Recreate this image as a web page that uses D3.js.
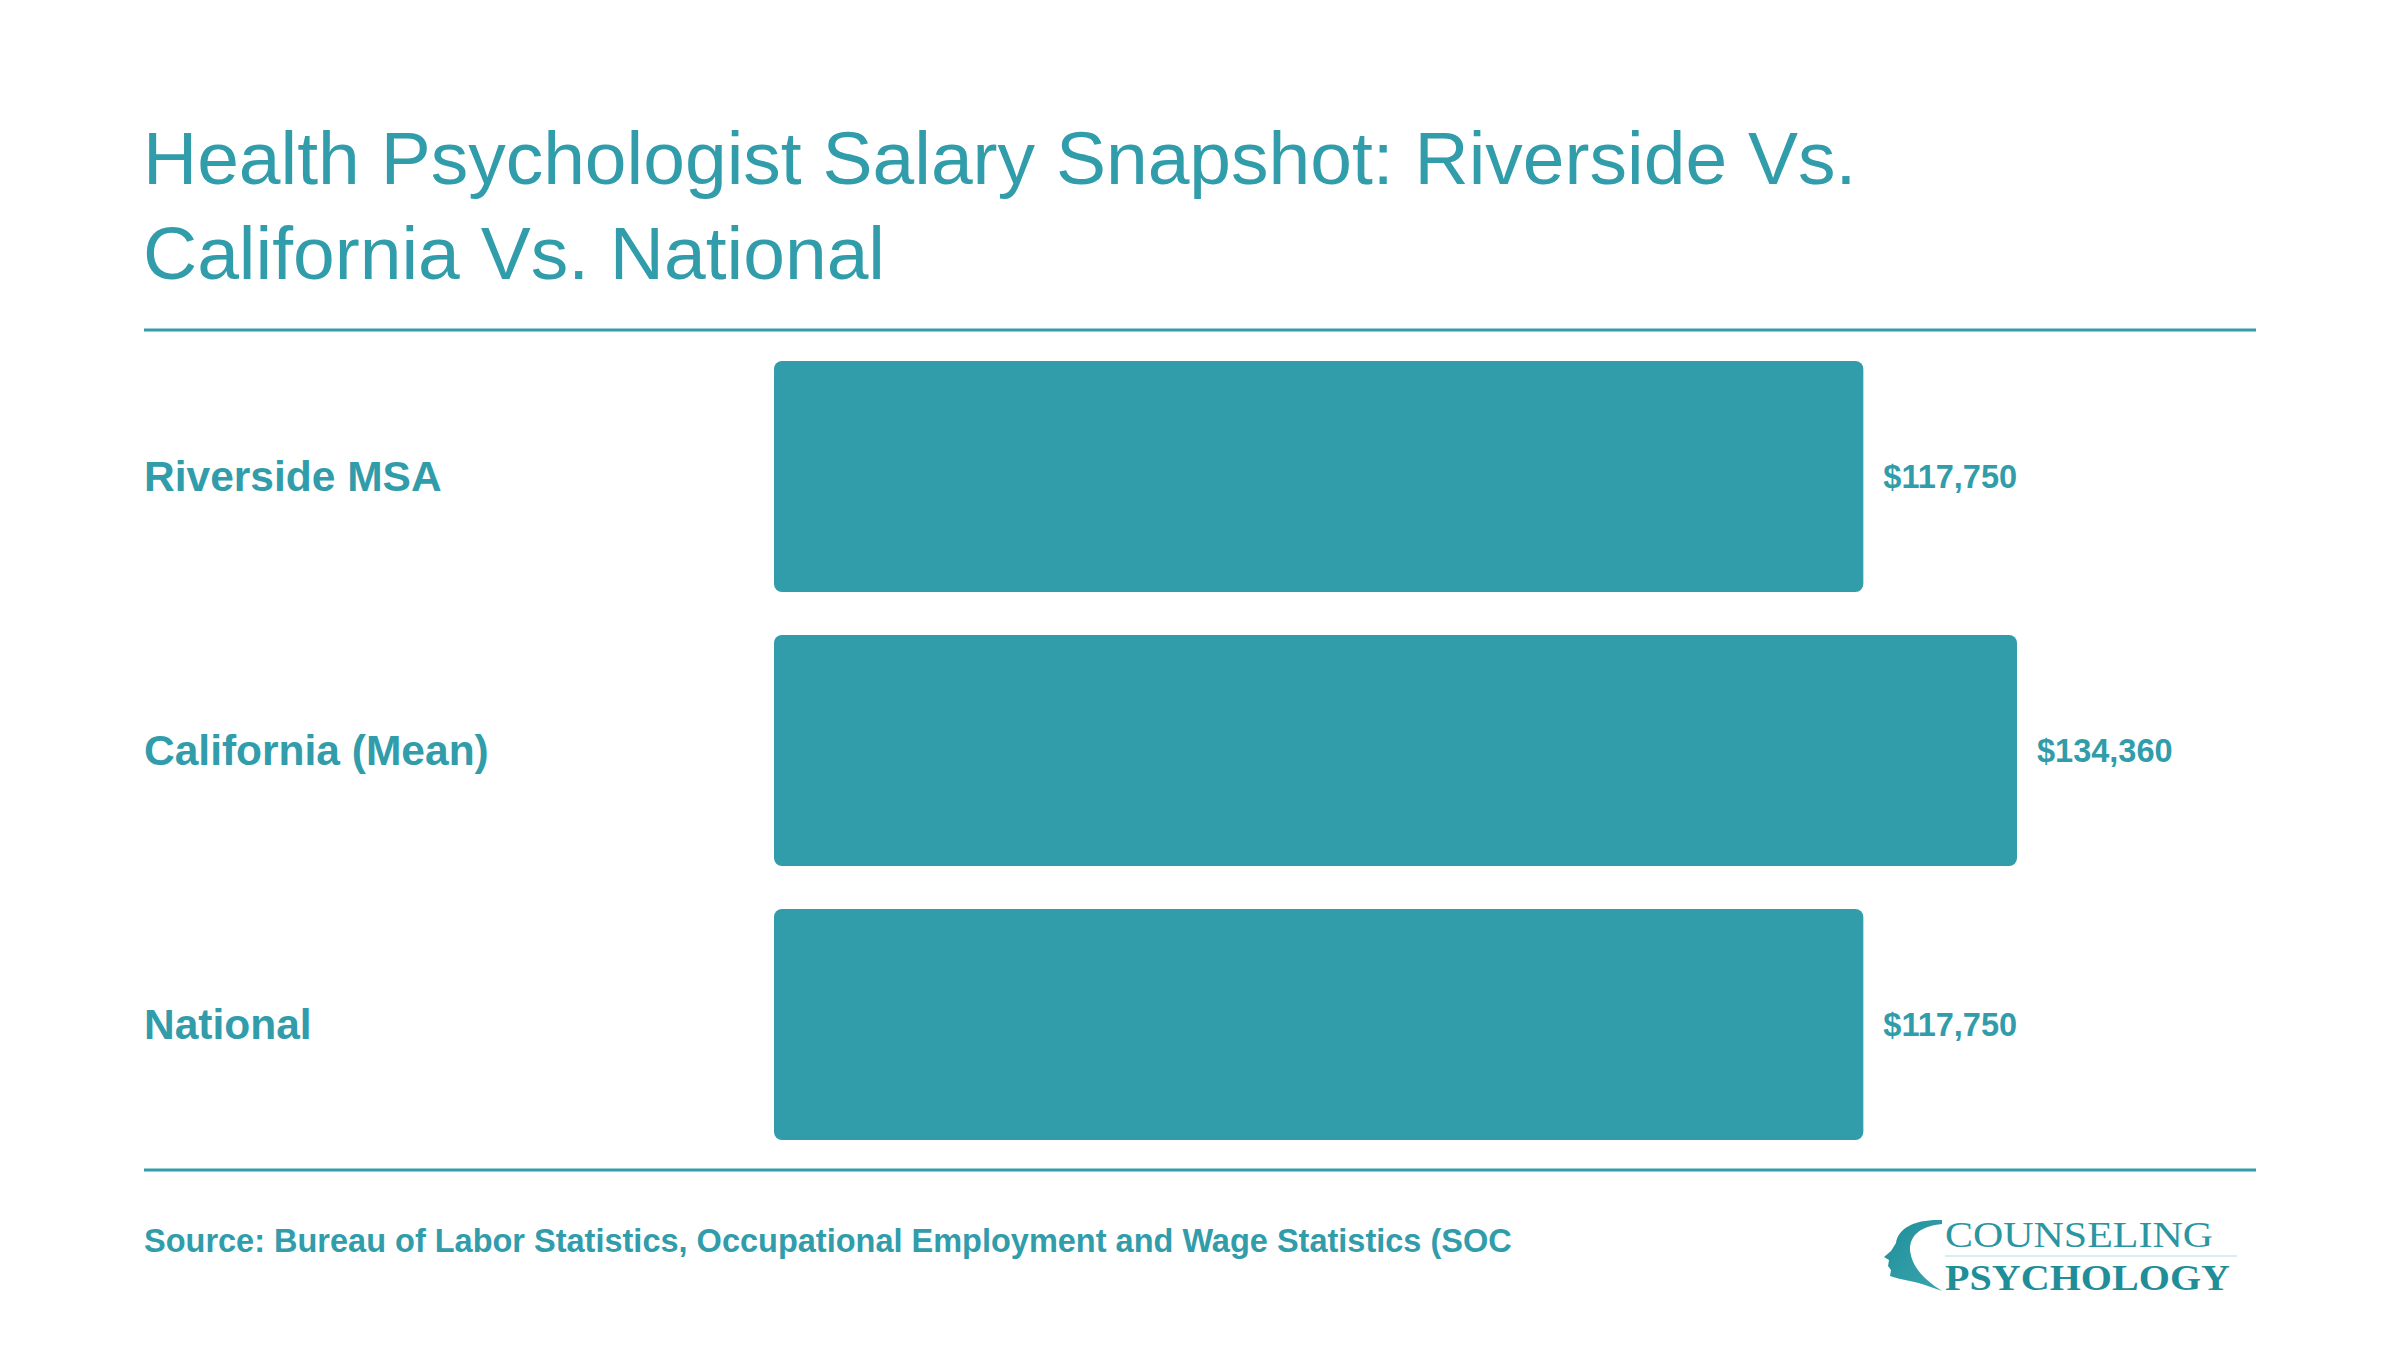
<!DOCTYPE html>
<html>
<head>
<meta charset="utf-8">
<script src="https://cdn.jsdelivr.net/npm/d3@7"></script>
<style>
  html, body { margin: 0; padding: 0; background: #fff; }
  svg { display: block; font-family: "Liberation Sans", Arial, Helvetica, sans-serif; }
</style>
</head>
<body>
<script>
'use strict';

// data
var categories = ["Riverside MSA", "California (Mean)", "National"];
var salaries = [117750, 134360, 117750];
var titleLines = ["Health Psychologist Salary Snapshot: Riverside Vs.", "California Vs. National"];
var sourceText = "Source: Bureau of Labor Statistics, Occupational Employment and Wage Statistics (SOC";

var W = 2400, H = 1350;
var teal = "#319CAA";
var fmt = d3.format("$,");

var svg = d3.select("body").append("svg")
    .attr("width", W)
    .attr("height", H);

// title
svg.append("g").selectAll("text")
    .data(titleLines)
    .enter()
    .append("text")
    .attr("x", 143)
    .attr("y", function(d, i) { return 184 + i * 95; })
    .style("font-size", "75px")
    .style("fill", teal)
    .text(function(d) { return d; });

// rules
[330, 1170].forEach(function(y) {
    svg.append("line")
        .attr("x1", 144).attr("x2", 2256)
        .attr("y1", y).attr("y2", y)
        .style("stroke", teal)
        .style("stroke-width", 3);
});

var x = d3.scaleLinear()
    .domain([0, d3.max(salaries)])
    .range([774, 2017]);

var y = d3.scaleBand()
    .domain(categories)
    .range([361, 1140])
    .paddingInner(0.157)
    .paddingOuter(0);

var rows = svg.append("g").selectAll("g.row")
    .data(categories)
    .enter()
    .append("g")
    .attr("class", "row");

rows.append("rect")
    .attr("x", x(0))
    .attr("y", function(d) { return y(d); })
    .attr("width", function(d, i) { return x(salaries[i]) - x(0); })
    .attr("height", y.bandwidth())
    .attr("rx", 8)
    .style("fill", teal);

rows.append("text")
    .attr("x", 144)
    .attr("y", function(d) { return y(d) + y.bandwidth() / 2; })
    .attr("dy", "0.35em")
    .style("font-size", "42.5px")
    .style("font-weight", "bold")
    .style("fill", teal)
    .text(function(d) { return d; });

rows.append("text")
    .attr("x", function(d, i) { return x(salaries[i]) + 20; })
    .attr("y", function(d) { return y(d) + y.bandwidth() / 2; })
    .attr("dy", "0.35em")
    .style("font-size", "32.5px")
    .style("font-weight", "bold")
    .style("fill", teal)
    .text(function(d, i) { return fmt(salaries[i]); });

// source
svg.append("text")
    .attr("x", 144)
    .attr("y", 1252)
    .style("font-size", "32.5px")
    .style("font-weight", "bold")
    .style("fill", teal)
    .text(sourceText);

// logo
var defs = svg.append("defs");
var grad = defs.append("linearGradient")
    .attr("id", "logoGrad")
    .attr("x1", "0").attr("y1", "0")
    .attr("x2", "1").attr("y2", "1");
grad.append("stop").attr("offset", "0%").attr("stop-color", "#1f8e98");
grad.append("stop").attr("offset", "100%").attr("stop-color", "#3aa5b0");

var logo = svg.append("g").attr("class", "logo");

logo.append("path")
    .attr("d", "M1942,1220 C1915,1219 1898,1228 1896,1243 L1891,1251 L1884,1257 L1889,1260 " +
        "L1888,1266 L1891,1270 L1890,1276 C1900,1280 1915,1281 1925,1285 L1942,1291 " +
        "C1925,1280 1912,1268 1910,1250 C1910,1234 1922,1226 1942,1224 Z")
    .style("fill", "url(#logoGrad)");

logo.append("text")
    .attr("x", 1945)
    .attr("y", 1247)
    .attr("textLength", 268)
    .attr("lengthAdjust", "spacingAndGlyphs")
    .style("font-family", "'Liberation Serif', 'DejaVu Serif', serif")
    .style("font-size", "35px")
    .style("fill", "#2a96a1")
    .text("COUNSELING");

logo.append("line")
    .attr("x1", 1945).attr("x2", 2237)
    .attr("y1", 1256).attr("y2", 1256)
    .style("stroke", "#cde8ec")
    .style("stroke-width", 1.5);

logo.append("text")
    .attr("x", 1945)
    .attr("y", 1290)
    .attr("textLength", 285)
    .attr("lengthAdjust", "spacingAndGlyphs")
    .style("font-family", "'Liberation Serif', 'DejaVu Serif', serif")
    .style("font-size", "35px")
    .style("font-weight", "bold")
    .style("fill", "#1f8e98")
    .text("PSYCHOLOGY");
</script>
</body>
</html>
